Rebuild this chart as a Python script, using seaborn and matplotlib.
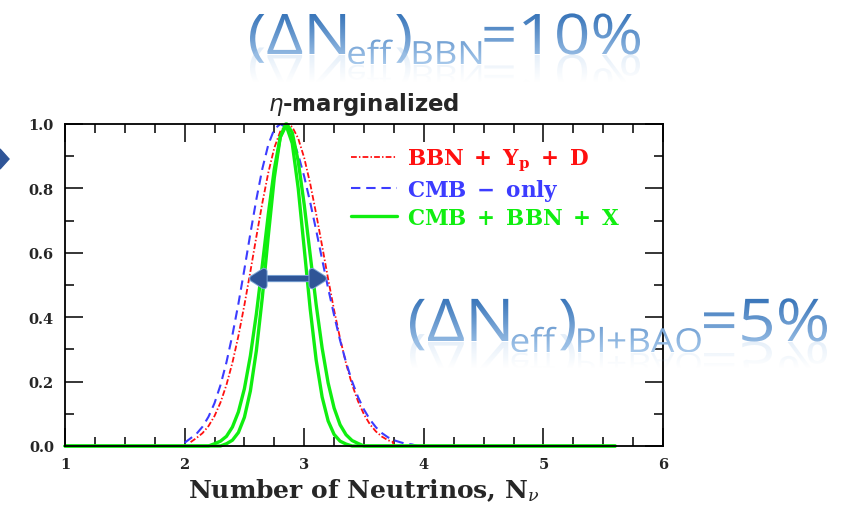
import matplotlib
matplotlib.use("Agg")
import matplotlib.pyplot as plt
import matplotlib.patheffects as pe
import numpy as np
import seaborn as sns
from matplotlib.colors import to_rgba
from matplotlib.font_manager import FontProperties
from matplotlib.patches import PathPatch, Polygon
from matplotlib.path import Path
from matplotlib.textpath import TextPath
from matplotlib.ticker import MultipleLocator
from matplotlib.transforms import Affine2D

# ---- likelihood curves (normalised to unit peak) ----
bbn_n = [2.05, 2.10, 2.15, 2.20, 2.25, 2.30, 2.35, 2.40, 2.45, 2.50, 2.55,
         2.60, 2.65, 2.70, 2.75, 2.80, 2.86, 2.90, 2.95, 3.00, 3.05, 3.10,
         3.15, 3.20, 3.25, 3.30, 3.35, 3.40, 3.45, 3.50, 3.55, 3.60, 3.65,
         3.70, 3.74, 3.75]
bbn_p = [0.012, 0.025, 0.040, 0.062, 0.093, 0.135, 0.190, 0.259, 0.342,
         0.438, 0.542, 0.650, 0.755, 0.849, 0.926, 0.977, 1.0, 0.991, 0.955,
         0.895, 0.815, 0.721, 0.621, 0.519, 0.422, 0.334, 0.256, 0.191,
         0.139, 0.098, 0.067, 0.045, 0.029, 0.018, 0.013, 0.0]

cmb_n = [2.00, 2.05, 2.10, 2.15, 2.20, 2.25, 2.30, 2.35, 2.40, 2.45, 2.50,
         2.55, 2.60, 2.65, 2.70, 2.75, 2.80, 2.85, 2.90, 2.95, 3.00, 3.05,
         3.10, 3.15, 3.20, 3.25, 3.30, 3.35, 3.40, 3.45, 3.50, 3.55, 3.60,
         3.65, 3.70, 3.75, 3.80, 3.85, 3.90, 3.95]
cmb_p = [0.010, 0.024, 0.038, 0.060, 0.091, 0.133, 0.189, 0.260, 0.345,
         0.442, 0.549, 0.660, 0.766, 0.861, 0.936, 0.984, 1.0, 0.989, 0.956,
         0.905, 0.837, 0.757, 0.670, 0.579, 0.490, 0.406, 0.328, 0.260,
         0.201, 0.152, 0.113, 0.082, 0.058, 0.040, 0.027, 0.018, 0.012,
         0.007, 0.005, 0.0]

comb_a_n = [1.00, 2.30, 2.35, 2.40, 2.45, 2.50, 2.55, 2.60, 2.65, 2.70, 2.75,
            2.80, 2.845, 2.90, 2.95, 3.00, 3.05, 3.10, 3.15, 3.20, 3.25,
            3.30, 3.35, 3.40, 5.60]
comb_a_p = [0.0, 0.0, 0.007, 0.018, 0.042, 0.089, 0.171, 0.296, 0.462, 0.653,
            0.833, 0.960, 1.0, 0.940, 0.800, 0.614, 0.426, 0.267, 0.152,
            0.078, 0.036, 0.015, 0.006, 0.0, 0.0]

comb_b_n = [1.00, 2.20, 2.25, 2.30, 2.35, 2.40, 2.45, 2.50, 2.55, 2.60, 2.65,
            2.70, 2.75, 2.80, 2.855, 2.90, 2.95, 3.00, 3.05, 3.10, 3.15,
            3.20, 3.25, 3.30, 3.35, 3.40, 3.45, 3.50, 5.60]
comb_b_p = [0.0, 0.0, 0.007, 0.015, 0.030, 0.059, 0.106, 0.178, 0.280, 0.410,
            0.562, 0.720, 0.860, 0.959, 1.0, 0.973, 0.884, 0.750, 0.594,
            0.439, 0.304, 0.196, 0.118, 0.066, 0.035, 0.017, 0.008, 0.0, 0.0]

# ---- axes text ----
x_ticks = [1, 2, 3, 4, 5, 6]
x_tick_labels = ["1", "2", "3", "4", "5", "6"]
y_ticks = [0.0, 0.2, 0.4, 0.6, 0.8, 1.0]
y_tick_labels = ["0.0", "0.2", "0.4", "0.6", "0.8", "1.0"]

series_labels = [r"$\mathbf{BBN\ +\ Y_p\ +\ D}$",
                 r"$\mathbf{CMB\ -\ only}$",
                 r"$\mathbf{CMB\ +\ BBN\ +\ X}$"]
title_text = r"$\eta$-marginalized"
x_label_text = r"Number of Neutrinos, $\mathbf{N}_{\nu}$"

# width marker drawn on the BBN curve at half maximum
arrow_span = [2.53, 3.20]
arrow_level = 0.52

# headline captions (pieces of normal and subscript text)
headline_bbn = [("(ΔN", "big"), ("eff", "sub"), (")", "big"),
                ("BBN", "sub"), ("=10%", "big")]
headline_planck = [("(ΔN", "big"), ("eff", "sub"), (")", "big"),
                   ("Pl+BAO", "sub"), ("=5%", "big")]

RED = "#FF1010"
BLUE = "#3c3cFF"
GREEN = "#10EE10"
ARROW = "#2F5597"

sns.set_style("ticks")
plt.rcParams["mathtext.fontset"] = "dejavuserif"
plt.rcParams["font.family"] = ["DejaVu Serif"]
plt.rcParams["axes.unicode_minus"] = False

W, H = 848, 510
fig = plt.figure(figsize=(W / 100, H / 100), dpi=100)
ax = fig.add_axes([65 / W, 1 - 447 / H, 598 / W, 322 / H])

sns.lineplot(x=bbn_n, y=bbn_p, ax=ax, color=RED, lw=1.3, sort=False,
             estimator=None, label=series_labels[0])
ax.lines[-1].set_dashes((3.2, 1.2, 0.8, 1.2))
sns.lineplot(x=cmb_n, y=cmb_p, ax=ax, color=BLUE, lw=1.5, sort=False,
             estimator=None, label=series_labels[1])
ax.lines[-1].set_dashes((4.5, 2.8))
sns.lineplot(x=comb_a_n, y=comb_a_p, ax=ax, color=GREEN, lw=2.4, sort=False,
             estimator=None, label=series_labels[2])
ax.lines[-1].set_clip_on(False)
sns.lineplot(x=comb_b_n, y=comb_b_p, ax=ax, color=GREEN, lw=2.4, sort=False,
             estimator=None)
ax.lines[-1].set_clip_on(False)

ax.set_xlim(1, 6)
ax.set_ylim(0, 1)
tick_font = dict(fontfamily="DejaVu Serif", fontweight="bold", fontsize=10.5)
ax.set_xticks(x_ticks, labels=x_tick_labels, **tick_font)
ax.set_yticks(y_ticks, labels=y_tick_labels, **tick_font)
ax.xaxis.set_minor_locator(MultipleLocator(0.25))
ax.yaxis.set_minor_locator(MultipleLocator(0.1))
ax.tick_params(which="both", direction="in", top=True, right=True,
               color="black", width=1.1)
ax.tick_params(which="major", length=13, pad=8)
ax.tick_params(which="minor", length=6.5)
for s in ax.spines.values():
    s.set_linewidth(1.3)
    s.set_color("black")
    s.set_visible(True)

ax.set_title(title_text, fontsize=16.5, fontweight="bold", family="DejaVu Sans",
             pad=10, math_fontfamily="dejavusans")
ax.set_xlabel(x_label_text, fontsize=18, fontweight="bold",
              family="DejaVu Serif", labelpad=4)
ax.set_ylabel("")

h, l = ax.get_legend_handles_labels()
leg_font = FontProperties(family="DejaVu Serif", weight="bold", size=15.5,
                          math_fontfamily="dejavuserif")
ax.legend(h, l, loc="upper left", bbox_to_anchor=(0.461, 0.962),
          frameon=False, prop=leg_font, handlelength=2.1, handletextpad=0.5,
          labelspacing=0.18, borderpad=0, labelcolor="linecolor")

ax.annotate("", xy=(arrow_span[1], arrow_level),
            xytext=(arrow_span[0], arrow_level),
            arrowprops=dict(arrowstyle="<|-|>,head_length=0.5,head_width=0.32",
                            mutation_scale=16, lw=3.8, color=ARROW,
                            shrinkA=0, shrinkB=0,
                            path_effects=[pe.Stroke(linewidth=5.2, foreground="#7EA6D6"),
                                          pe.Normal()]),
            zorder=6)

# ---- overlay layer in pixel units for captions ----
ov = fig.add_axes([0, 0, 1, 1], zorder=10)
ov.set_xlim(0, W)
ov.set_ylim(H, 0)
ov.axis("off")
ov.patch.set_alpha(0)


def glow_text(pieces, left, right, baseline, big, small, drop,
              top_col="#3673B8", bot_col="#A6C8EB"):
    parts = []
    cursor = 0.0
    gap = 0.05 * big
    for txt, kind in pieces:
        size = big if kind == "big" else small
        tp = TextPath((0, 0), txt, prop=FontProperties(family="Open Sans", size=size))
        ext = tp.get_extents()
        parts.append((tp, cursor - ext.x0, 0 if kind == "big" else drop))
        cursor += ext.width + gap
    total = cursor - gap
    sx = (right - left) / total
    faces, mirrors = [], []
    for tp, shift, dy in parts:
        base = baseline + dy
        faces.append(tp.transformed(
            Affine2D().translate(shift, 0).scale(sx, -1).translate(left, base)))
        mirrors.append(tp.transformed(
            Affine2D().translate(shift, 0).scale(sx, 0.85).translate(left, base + 1)))
    face = Path.make_compound_path(*faces)
    mirror = Path.make_compound_path(*mirrors)

    fe = face.get_extents()
    fp = PathPatch(face, transform=ov.transData, fc="none", ec="none")
    ov.add_patch(fp)
    t = np.linspace(0, 1, 256)[:, None]
    c0, c1 = np.array(to_rgba(top_col)), np.array(to_rgba(bot_col))
    grad = (c0 * (1 - t) + c1 * t)[:, None, :]
    im = ov.imshow(grad, extent=(fe.x0, fe.x1, fe.y1, fe.y0), origin="upper",
                   aspect="auto", interpolation="bilinear", zorder=11)
    im.set_clip_path(fp)

    me = mirror.get_extents()
    mp = PathPatch(mirror, transform=ov.transData, fc="none", ec="none")
    ov.add_patch(mp)
    depth = 28.0
    yy = np.linspace(me.y0, me.y1, 256)
    a = np.clip(1 - (yy - baseline) / depth, 0, 1) * 0.3
    rg = np.zeros((256, 1, 4))
    rg[..., :3] = to_rgba(bot_col)[:3]
    rg[..., 0, 3] = a
    im2 = ov.imshow(rg, extent=(me.x0, me.x1, me.y1, me.y0), origin="upper",
                    aspect="auto", interpolation="bilinear", zorder=11)
    im2.set_clip_path(mp)


glow_text(headline_bbn, 250, 640, 55, 56, 32, 10)
glow_text(headline_planck, 410, 827, 342, 59, 33, 11)

ov.add_patch(Polygon([(0, 150), (9, 160), (0, 170)], closed=True,
                     color=ARROW, zorder=12))
ov.set_xlim(0, W)
ov.set_ylim(H, 0)

fig.savefig("out.png", dpi=100, facecolor="white")
